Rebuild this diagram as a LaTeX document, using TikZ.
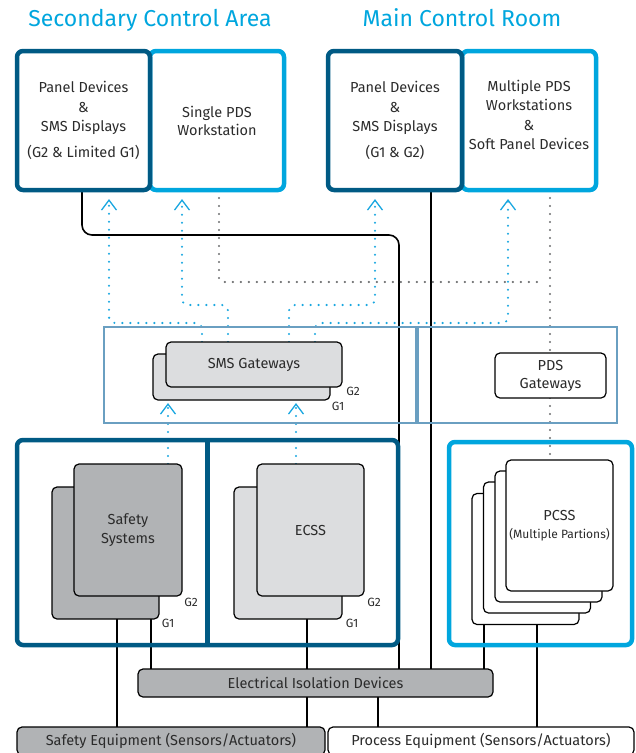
\documentclass[tikz,border=0pt]{standalone}
\usepackage{fontspec}
\setmainfont{Fira Sans}
\usetikzlibrary{arrows.meta}
\definecolor{dkblue}{HTML}{005A84}
\definecolor{cyanb}{HTML}{00A6DE}
\definecolor{steel}{HTML}{6A9FC1}
\definecolor{gfill}{HTML}{B1B3B5}
\definecolor{lgfill}{HTML}{DCDDDF}
\definecolor{txt}{HTML}{2B2B2B}
\definecolor{dotgray}{HTML}{6D6E70}
\definecolor{dotblue}{HTML}{1AA7E0}
\pgfdeclarelayer{bg}
\pgfsetlayers{bg,main}
\begin{document}
\begin{tikzpicture}[x=1pt,y=-1pt,
  every node/.style={inner sep=0pt, outer sep=0pt, text=txt, align=center,
    font=\fontsize{14.5}{19.5}\selectfont},
  titletext/.style={text=cyanb, font=\fontsize{23}{26}\selectfont, anchor=base},
  darkbox/.style={draw=dkblue, line width=4.5pt, rounded corners=6pt},
  cyanbox/.style={draw=cyanb, line width=4.5pt, rounded corners=6pt},
  steelbox/.style={draw=steel, line width=2pt},
  unitbox/.style={draw=black, line width=1.2pt, rounded corners=5pt},
  glabel/.style={font=\fontsize{12}{14}\selectfont},
  blk/.style={draw=black, line width=1.6pt},
  gdot/.style={draw=dotgray, line width=2.4pt, line cap=round, dash pattern=on 0pt off 8pt},
  bdot/.style={draw=dotblue, line width=2.4pt, line cap=round, dash pattern=on 0pt off 8pt,
    -{Straight Barb[length=10pt,width=15pt,line width=1.3pt]}},
]
\useasboundingbox (0,0) rectangle (636,753);
\clip (0,0) rectangle (636,753);

% titles
\node[titletext] (t1) at (150,26) {Secondary Control Area};
\node[titletext] (t2) at (462,26) {Main Control Room};

% top boxes
\node[cyanbox, minimum width=134pt, minimum height=139pt] (B) at (217,120.5) {Single PDS\\[-1.5pt]Workstation};
\node[darkbox, minimum width=133pt, minimum height=139pt] (A) at (83.5,120.5) {Panel Devices\\\&\\SMS Displays\\[6pt](G2 \& Limited G1)};
\node[cyanbox, minimum width=134pt, minimum height=139pt,
  label={[yshift=5.5pt]center:{Multiple PDS\\Workstations\\\&\\Soft Panel Devices}}] (D) at (529,120.5) {};
\node[darkbox, minimum width=134pt, minimum height=139pt] (C) at (395,120.5) {Panel Devices\\\&\\SMS Displays\\[6pt](G1 \& G2)};

% middle gateway area
\node[steelbox, minimum width=312pt, minimum height=96pt] (SL) at (260,375) {};
\node[steelbox, minimum width=199pt, minimum height=96pt] (SR) at (517.5,375) {};
\node[unitbox, fill=lgfill, minimum width=177pt, minimum height=46pt] (SG1) at (241.5,377) {};
\node[unitbox, fill=lgfill, minimum width=176pt, minimum height=45pt] (SG2) at (254,364.5) {SMS Gateways};
\node[glabel] (sg2l) at (353,391) {G2};
\node[glabel] (sg1l) at (338,406) {G1};
\node[unitbox, fill=white, minimum width=111pt, minimum height=45pt] (PDS) at (550.5,375.5) {PDS\\[-1.5pt]Gateways};

% bottom containers
\node[darkbox, minimum width=381pt, minimum height=205pt] (DC) at (207.5,542.5) {};
\draw[dkblue, line width=4.5pt] (DC.north) -- (DC.south);
\node[cyanbox, minimum width=183pt, minimum height=203pt] (PC) at (540.5,543.5) {};

% safety systems
\node[unitbox, fill=gfill, minimum width=107pt, minimum height=132pt] (SB) at (105.5,553) {};
\node[unitbox, fill=gfill, minimum width=108pt, minimum height=132pt] (SF) at (128,530) {Safety\\[-1pt]Systems};
\node[glabel] (ss2) at (191,602) {G2};
\node[glabel] (ss1) at (168,623) {G1};

% ECSS
\node[unitbox, fill=lgfill, minimum width=108pt, minimum height=132pt] (EB) at (288,553) {};
\node[unitbox, fill=lgfill, minimum width=107pt, minimum height=132pt] (EF) at (310.5,530) {ECSS};
\node[glabel] (es2) at (374,602) {G2};
\node[glabel] (es1) at (352,623) {G1};

% PCSS
\node[unitbox, fill=white, minimum width=107pt, minimum height=131pt] (P4) at (525.5,559) {};
\node[unitbox, fill=white, minimum width=107pt, minimum height=131pt] (P3) at (537,547.5) {};
\node[unitbox, fill=white, minimum width=107pt, minimum height=131pt] (P2) at (548.5,536.5) {};
\node[unitbox, fill=white, minimum width=107pt, minimum height=131pt] (P1) at (559.5,525.5) {PCSS\\[-1pt]{\fontsize{12}{14}\selectfont(Multiple Partions)}};

% isolation and equipment
\node[unitbox, fill=gfill, minimum width=355pt, minimum height=28pt] (EID) at (315.5,683) {Electrical Isolation Devices};
\node[unitbox, fill=gfill, minimum width=308pt, minimum height=28pt] (SEq) at (171,741) {Safety Equipment (Sensors/Actuators)};
\node[unitbox, fill=white, minimum width=306pt, minimum height=28pt] (PEq) at (481,741) {Process Equipment (Sensors/Actuators)};

\begin{pgfonlayer}{bg}
% black links
\draw[blk, rounded corners=10pt] (A.south -| 82,0) |- (399,235) -- (EID.north -| 399,0);
\draw[blk] (C.south -| 431,0) -- (EID.north -| 431,0);
\draw[blk] (SB.south -| 117,0) -- (SEq.north -| 117,0);
\draw[blk] (SB.south -| 151,0) -- (EID.north -| 151,0);
\draw[blk] (EB.south -| 307,0) -- (EID.north -| 307,0);
\draw[blk] (EID.south -| 307,0) -- (SEq.north -| 307,0);
\draw[blk] (P4.south -| 484,0) -- (EID.north -| 484,0);
\draw[blk] (EID.south -| 378,0) -- (PEq.north -| 378,0);
\draw[blk] (P4.south -| 537,0) -- (PEq.north -| 537,0);
% gray dotted links
\draw[gdot, rounded corners=4pt] (B.south -| 219,0) |- (539,282);
\draw[gdot] (D.south -| 550,0) -- (P1.north -| 550,0);
% blue dotted arrows
\draw[bdot, rounded corners=6pt, shorten >=9pt] (SG2.north -| 202,0) |- (109,323) -- (A.south -| 109,0);
\draw[bdot, rounded corners=6pt, shorten >=9pt] (SG2.north -| 228,0) |- (182,305) -- (B.south -| 182,0);
\draw[bdot, rounded corners=6pt, shorten >=9pt] (SG2.north -| 289,0) |- (375,305) -- (C.south -| 375,0);
\draw[bdot, rounded corners=6pt, shorten >=9pt] (SG2.north -| 315,0) |- (508,323) -- (D.south -| 508,0);
\draw[bdot, shorten >=3pt] (SF.north -| 168,0) -- (SG1.south -| 168,0);
\draw[bdot, shorten >=3pt] (EF.north -| 296,0) -- (SG1.south -| 296,0);
\end{pgfonlayer}
\end{tikzpicture}
\end{document}
